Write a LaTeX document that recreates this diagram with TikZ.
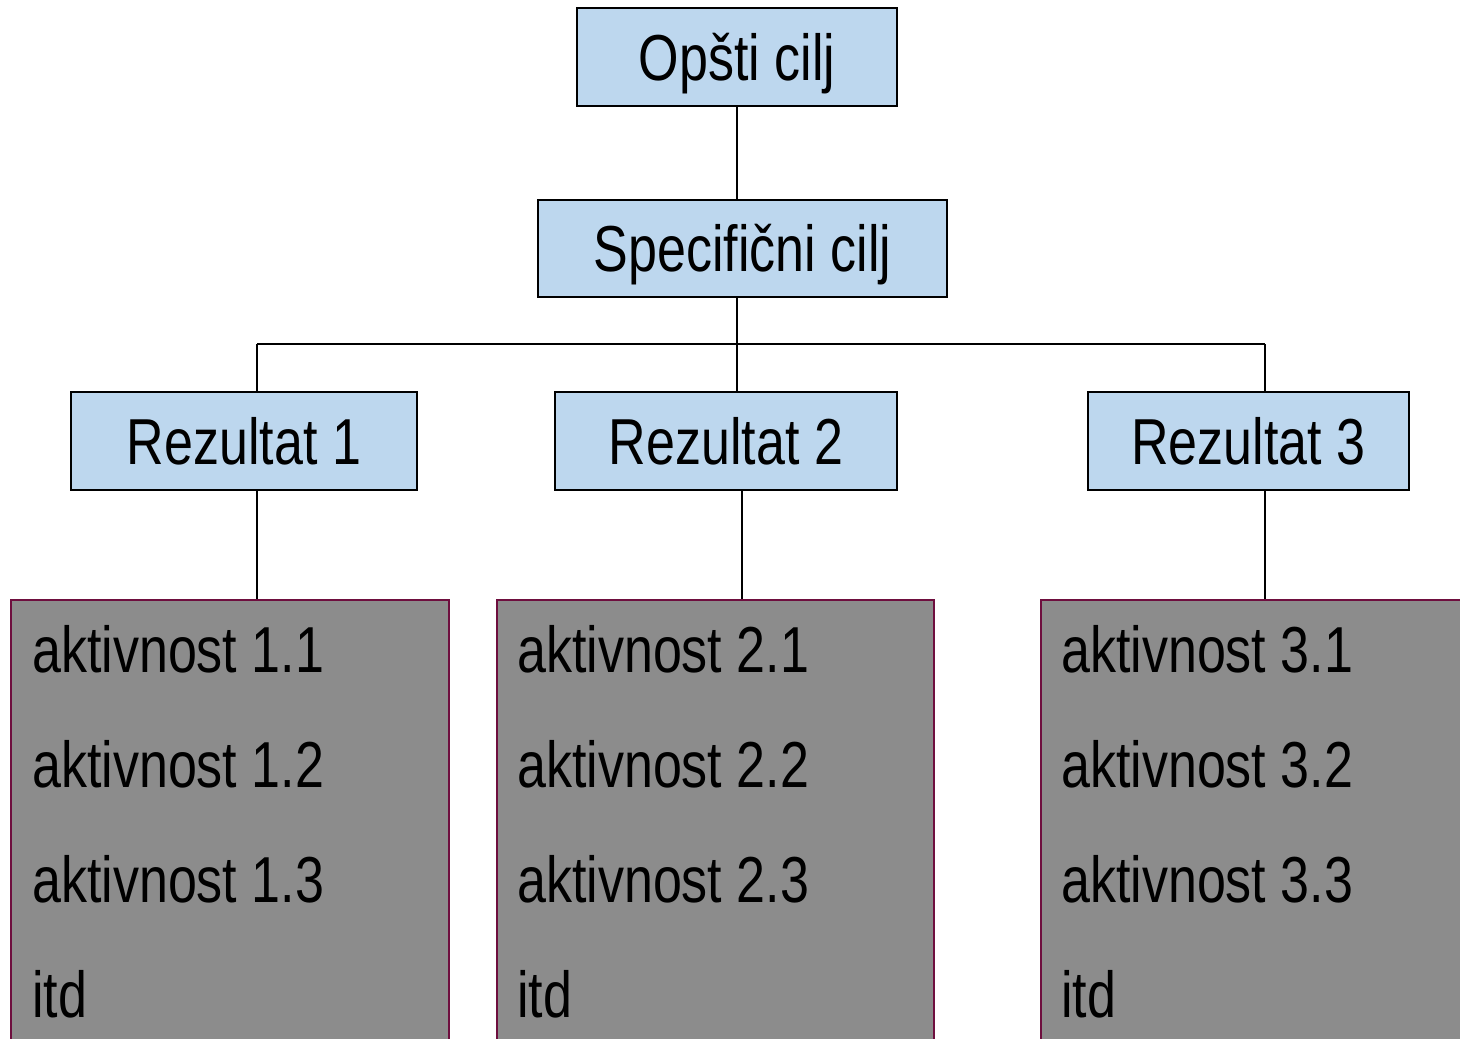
\documentclass[tikz,border=0pt]{standalone}
\usepackage{fontspec}
\setmainfont[FakeStretch=0.80]{Liberation Sans}
\definecolor{boxblue}{RGB}{189,215,238}
\definecolor{boxgrey}{RGB}{140,140,140}
\definecolor{maroon}{RGB}{110,14,62}
\begin{document}
\begin{tikzpicture}[x=1pt,y=-1pt,
  bluebox/.style={draw=black,line width=2pt,fill=boxblue,inner sep=0pt,
    font=\fontsize{65}{78}\selectfont,text height=46.5pt,text depth=0pt},
  greybox/.style={draw=maroon,line width=2pt,fill=boxgrey,inner sep=0pt},
  item/.style={anchor=base west,inner sep=0pt,font=\fontsize{65}{78}\selectfont},
  conn/.style={draw=black,line width=2pt}]
\clip (0,0) rectangle (1460,1039);
\fill[white] (0,0) rectangle (1460,1039);
% top boxes
\node[bluebox,minimum width=320pt,minimum height=98pt] (o) at (737,57) {Opšti cilj};
\node[bluebox,minimum width=409pt,minimum height=97pt] (s) at (742.5,248.5) {Specifični cilj};
\node[bluebox,minimum width=346pt,minimum height=98pt] (r1) at (244,441) {Rezultat 1};
\node[bluebox,minimum width=342pt,minimum height=98pt] (r2) at (726,441) {Rezultat 2};
\node[bluebox,minimum width=321pt,minimum height=98pt] (r3) at (1248.5,441) {Rezultat 3};
% grey boxes
\node[greybox,minimum width=438pt,minimum height=470pt] (g1) at (230,835) {};
\node[greybox,minimum width=437pt,minimum height=470pt] (g2) at (715.5,835) {};
\node[greybox,minimum width=450pt,minimum height=470pt] (g3) at (1266,835) {};
% items
\foreach \g/\x in {1/32,2/517,3/1061}{
  \node[item] (a\g1) at (\x,672) {aktivnost \g.1};
  \node[item] (a\g2) at (\x,787) {aktivnost \g.2};
  \node[item] (a\g3) at (\x,902) {aktivnost \g.3};
  \node[item] (a\g4) at (\x,1017) {itd};
}
% connectors
\coordinate (b1) at (257,344);
\coordinate (b2) at (737,344);
\coordinate (b3) at (1265,344);
\coordinate (d2) at (742,490);
\draw[conn] (o.south -| b2) -- (s.north -| b2);
\draw[conn] (s.south -| b2) -- (r2.north -| b2);
\draw[conn] (b1) -- (b3);
\draw[conn] (b1) -- (r1.north -| b1);
\draw[conn] (b3) -- (r3.north -| b3);
\draw[conn] (r1.south -| b1) -- (g1.north -| b1);
\draw[conn] (d2) -- (g2.north -| d2);
\draw[conn] (r3.south -| b3) -- (g3.north -| b3);
\end{tikzpicture}
\end{document}
